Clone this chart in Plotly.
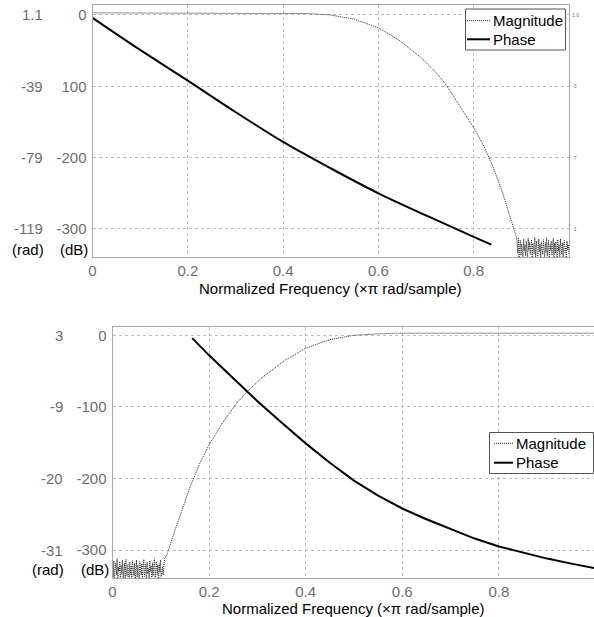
import numpy as np
import plotly.graph_objects as go

# ---------------- data ----------------
x_ticks = [0, 0.2, 0.4, 0.6, 0.8]
x_tick_text = ["0", "0.2", "0.4", "0.6", "0.8"]
x_title = "Normalized Frequency (\u00d7\u03c0 rad/sample)"

y_tickvals = [0, -100, -200, -300]
top_db_labels = ["0", "100", "-200", "-300"]
top_rad_labels = ["1.1", "-39", "-79", "-119"]
top_right_labels = ["1.0", "-3", "-7", "-1"]
bot_db_labels = ["0", "-100", "-200", "-300"]
bot_rad_labels = ["3", "-9", "-20", "-31"]
legend_names = ["Magnitude", "Phase"]

# top (lowpass) magnitude
top_mag_f = [0, 0.1, 0.2, 0.3, 0.4, 0.45, 0.5, 0.55, 0.6, 0.643, 0.69, 0.72, 0.742,
             0.77, 0.8, 0.82, 0.84, 0.86, 0.875, 0.889]
top_mag_v = [3, 3, 3, 3, 3, 2, 0, -6, -18, -35, -60, -80, -98,
             -127, -158, -182, -212, -248, -280, -310]
top_noise_v = [-318, -334, -312, -340, -325, -316, -337, -321, -329, -345, -314, -331,
               -322, -338, -317, -326, -342, -313, -330, -319, -336, -324, -315, -343,
               -320, -328, -335, -312, -339, -323, -317, -347, -326, -314, -332, -321,
               -341, -318, -329, -336, -315, -327, -344, -319, -333, -312, -338, -324,
               -316, -350, -322, -330, -317, -337, -325, -313, -341, -320, -334, -318,
               -328, -346, -315, -331, -323, -339, -314, -327, -336, -319, -343, -321,
               -316, -333, -326, -340, -317, -329, -322, -335]
top_noise_range = (0.891, 1.0)

# top phase
top_ph_f = [0, 0.1, 0.2, 0.3, 0.4, 0.5, 0.6, 0.7, 0.8, 0.837]
top_ph_v = [-4, -49, -92, -136, -178, -215, -250, -281, -311, -322]

# bottom (highpass) magnitude
bot_noise_v = [-322, -338, -315, -344, -327, -318, -335, -312, -341, -324, -330, -316,
               -348, -321, -333, -314, -339, -326, -319, -343, -313, -331, -337, -320,
               -328, -345, -317, -334, -323, -340, -315, -329, -336, -318, -352, -325,
               -314, -338, -321, -332, -343, -316, -327, -335, -319, -341, -324, -313,
               -337, -328, -320, -346, -317, -333, -326, -339, -315, -330, -322, -344,
               -318, -336, -325, -312, -340, -329, -316, -334, -321, -347, -319, -331,
               -314, -338, -327, -323, -335, -317, -312, -310]
bot_noise_range = (0.0, 0.109)
bot_mag_f = [0.111, 0.125, 0.14, 0.16, 0.18, 0.2, 0.23, 0.257, 0.28, 0.31, 0.357,
             0.4, 0.45, 0.5, 0.55, 0.6, 0.7, 0.8, 0.9, 0.997]
bot_mag_v = [-310, -281, -251, -213, -180, -153, -120, -95, -78, -59, -35,
             -18, -6, 0, 2, 3, 3, 3, 3, 3]

# bottom phase
bot_ph_f = [0.165, 0.2, 0.25, 0.3, 0.35, 0.4, 0.45, 0.5, 0.55, 0.6, 0.65, 0.7,
            0.75, 0.8, 0.85, 0.9, 0.95, 0.997]
bot_ph_v = [-4, -28, -60, -92, -122, -151, -178, -203, -224, -242, -257, -271,
            -284, -295, -304, -312, -319, -325]

# ---------------- build ----------------
W, H = 594, 617
FONT = "Liberation Sans, Arial, sans-serif"
FS = 15
TICK_COL = "#6e6e6e"
AX_COL = "#a8a8a8"
GRID_COL = "#bdbdbd"
MAG_COL = "#262626"

top_nf = np.linspace(top_noise_range[0], top_noise_range[1], len(top_noise_v))
bot_nf = np.linspace(bot_noise_range[0], bot_noise_range[1], len(bot_noise_v))

top_mag_x = list(top_mag_f) + list(top_nf)
top_mag_y = list(top_mag_v) + list(top_noise_v)
bot_mag_x = list(bot_nf) + list(bot_mag_f)
bot_mag_y = list(bot_noise_v) + list(bot_mag_v)

fig = go.Figure()
mag_line = dict(color=MAG_COL, width=1, dash="1px,1px")
ph_line = dict(color="black", width=2)

fig.add_trace(go.Scatter(x=top_mag_x, y=top_mag_y, mode="lines", name=legend_names[0],
                         line=mag_line, xaxis="x", yaxis="y"))
fig.add_trace(go.Scatter(x=top_ph_f, y=top_ph_v, mode="lines", name=legend_names[1],
                         line=ph_line, line_shape="spline", xaxis="x", yaxis="y"))
fig.add_trace(go.Scatter(x=bot_mag_x, y=bot_mag_y, mode="lines", name=legend_names[0],
                         line=mag_line, xaxis="x2", yaxis="y2"))
fig.add_trace(go.Scatter(x=bot_ph_f, y=bot_ph_v, mode="lines", name=legend_names[1],
                         line=ph_line, xaxis="x2", yaxis="y2"))


def xax(domain, rng, anchor):
    return dict(domain=domain, range=rng, anchor=anchor, automargin=False,
                tickvals=x_ticks, ticktext=x_tick_text,
                tickfont=dict(size=FS, color=TICK_COL, family=FONT),
                showgrid=True, gridcolor=GRID_COL, griddash="dot", gridwidth=1,
                showline=True, linecolor=AX_COL, linewidth=1, mirror=True,
                zeroline=False, ticks="", ticklabelstandoff=0)


def yax(domain, rng, anchor, labels):
    return dict(domain=domain, range=rng, anchor=anchor, automargin=False,
                tickvals=y_tickvals, ticktext=labels,
                tickfont=dict(size=FS, color=TICK_COL, family=FONT),
                showgrid=True, gridcolor=GRID_COL, griddash="dot", gridwidth=1,
                showline=True, linecolor=AX_COL, linewidth=1, mirror=True,
                zeroline=False, ticks="", ticklabelstandoff=2)


top_xd = [92.5 / W, 569 / W]
top_yd = [1 - 257 / H, 1 - 5 / H]
bot_xd = [112.5 / W, 1.0]
bot_yd = [1 - 578 / H, 1 - 327 / H]

fig.update_layout(
    width=W, height=H, autosize=False,
    margin=dict(l=0, r=0, t=0, b=0),
    paper_bgcolor="white", plot_bgcolor="white",
    font=dict(family=FONT, size=FS, color="black"),
    xaxis=xax(top_xd, [0, 1.0], "y"),
    yaxis=yax(top_yd, [-339.3, 14], "x", top_db_labels),
    xaxis2=xax(bot_xd, [0, 0.997], "y2"),
    yaxis2=yax(bot_yd, [-339.1, 11.6], "x2", bot_db_labels),
    showlegend=False,
)


def px(v):
    return v / W


def py(v):
    return 1 - v / H


ann = []
shapes = []
for v, t in zip(y_tickvals, top_rad_labels):
    ann.append(dict(x=px(45), xref="paper", y=v, yref="y", text=t, showarrow=False,
                    xanchor="right", yanchor="middle",
                    font=dict(size=FS, color=TICK_COL, family=FONT)))
for v, t in zip(y_tickvals, bot_rad_labels):
    ann.append(dict(x=px(65), xref="paper", y=v, yref="y2", text=t, showarrow=False,
                    xanchor="right", yanchor="middle",
                    font=dict(size=FS, color=TICK_COL, family=FONT)))
for v, t in zip(y_tickvals, top_right_labels):
    ann.append(dict(x=px(570), xref="paper", y=v, yref="y", text=t, showarrow=False,
                    xanchor="left", yanchor="middle",
                    font=dict(size=5, color=TICK_COL, family=FONT)))
for (xr, xd, yp) in [(46, 90, 249), (66, 111, 569)]:
    ann.append(dict(x=px(xr), xref="paper", y=py(yp), yref="paper", text="(rad)",
                    showarrow=False, xanchor="right", yanchor="middle",
                    font=dict(size=FS, color="black", family=FONT)))
    ann.append(dict(x=px(xd), xref="paper", y=py(yp), yref="paper", text="(dB)",
                    showarrow=False, xanchor="right", yanchor="middle",
                    font=dict(size=FS, color="black", family=FONT)))

# axis titles
for xd, yp in [(top_xd, 288), (bot_xd, 608)]:
    ann.append(dict(x=(xd[0] + min(xd[1], 1.0)) / 2, xref="paper", y=py(yp), yref="paper",
                    text=x_title, showarrow=False, xanchor="center", yanchor="middle",
                    borderpad=0,
                    font=dict(size=FS, color="black", family=FONT)))

# legend boxes (drawn as shapes + text)
for (bx0, bx1, by0, by1, sx0, sx1, tx, r1, r2) in [
        (465.5, 565.5, 9, 50, 467, 490, 491, 20.7, 39.3),
        (489.5, 593.5, 432.5, 473.5, 494, 513, 514, 443.3, 462.7)]:
    shapes.append(dict(type="rect", xref="paper", yref="paper",
                       x0=px(bx0), x1=px(bx1), y0=py(by1), y1=py(by0),
                       line=dict(color="#555555", width=1), fillcolor="white", layer="above"))
    shapes.append(dict(type="line", xref="paper", yref="paper",
                       x0=px(sx0), x1=px(sx1), y0=py(r1), y1=py(r1),
                       line=dict(color=MAG_COL, width=1, dash="1px,1px"), layer="above"))
    shapes.append(dict(type="line", xref="paper", yref="paper",
                       x0=px(sx0), x1=px(sx1), y0=py(r2), y1=py(r2),
                       line=dict(color="black", width=2), layer="above"))
    for name, r in zip(legend_names, [r1, r2]):
        ann.append(dict(x=px(tx), xref="paper", y=py(r), yref="paper", text=name,
                        showarrow=False, xanchor="left", yanchor="middle",
                        font=dict(size=FS, color="black", family=FONT)))

fig.update_layout(annotations=ann, shapes=shapes)

fig.write_html("out.html")
